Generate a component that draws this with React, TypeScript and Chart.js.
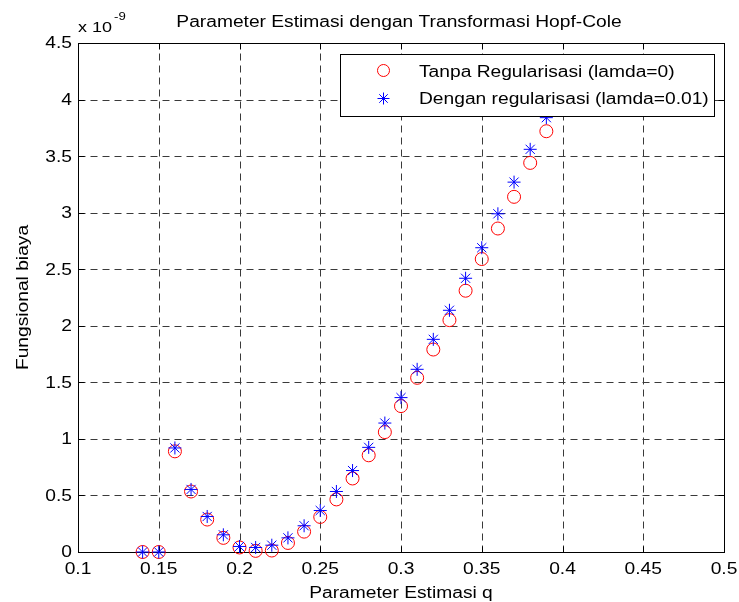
import React, { useEffect, useRef } from "react";
import { Chart, registerables } from "chart.js";

Chart.register(...registerables);

// Parameter estimasi q
const qValues = [
  0.14, 0.15, 0.16, 0.17, 0.18, 0.19, 0.2, 0.21, 0.22, 0.23, 0.24, 0.25, 0.26,
  0.27, 0.28, 0.29, 0.3, 0.31, 0.32, 0.33, 0.34, 0.35, 0.36, 0.37, 0.38, 0.39,
];
// Fungsional biaya (units of 1e-9)
const tanpaRegularisasi = [
  0, 0, 0.89, 0.535, 0.287, 0.125, 0.04, 0.01, 0.013, 0.08, 0.18, 0.31, 0.465,
  0.65, 0.855, 1.06, 1.29, 1.54, 1.79, 2.05, 2.31, 2.59, 2.86, 3.14, 3.44, 3.72,
];
const denganRegularisasi = [
  0, 0, 0.92, 0.553, 0.314, 0.152, 0.049, 0.04, 0.06, 0.125, 0.232, 0.367,
  0.535, 0.72, 0.925, 1.14, 1.365, 1.615, 1.88, 2.137, 2.42, 2.69, 2.99, 3.27,
  3.56, 3.84,
];

const xTickValues = [0.1, 0.15, 0.2, 0.25, 0.3, 0.35, 0.4, 0.45, 0.5];
const xTickLabels = ["0.1", "0.15", "0.2", "0.25", "0.3", "0.35", "0.4", "0.45", "0.5"];
const yTickValues = [0, 0.5, 1, 1.5, 2, 2.5, 3, 3.5, 4, 4.5];
const yTickLabels = ["0", "0.5", "1", "1.5", "2", "2.5", "3", "3.5", "4", "4.5"];

const titleText = "Parameter Estimasi dengan Transformasi Hopf-Cole";
const xAxisLabel = "Parameter Estimasi q";
const yAxisLabel = "Fungsional biaya";
const legendLabels = ["Tanpa Regularisasi (lamda=0)", "Dengan regularisasi (lamda=0.01)"];

const FONT = "'Liberation Sans', Arial, Helvetica, sans-serif";
const STRETCH = 1.2;

function drawText(
  ctx: CanvasRenderingContext2D,
  text: string,
  x: number,
  y: number,
  size: number,
  align: CanvasTextAlign,
  baseline: CanvasTextBaseline = "alphabetic",
  rotate = 0
) {
  ctx.save();
  ctx.translate(x, y);
  if (rotate) ctx.rotate(rotate);
  ctx.scale(STRETCH, 1);
  ctx.font = `${size}px ${FONT}`;
  ctx.textAlign = align;
  ctx.textBaseline = baseline;
  ctx.fillStyle = "#000";
  ctx.fillText(text, 0, 0);
  ctx.restore();
}

const framePlugin = {
  id: "matlabFrame",
  beforeDatasetsDraw(chart: any) {
    const { ctx, chartArea } = chart;
    const xs = chart.scales.x;
    const ys = chart.scales.y;
    const L = Math.round(chartArea.left) + 0.5;
    const R = Math.round(chartArea.right) + 0.5;
    const T = Math.round(chartArea.top) + 0.5;
    const B = Math.round(chartArea.bottom) + 0.5;
    ctx.save();
    // grid
    ctx.strokeStyle = "#3a3a3a";
    ctx.lineWidth = 1;
    ctx.setLineDash([7, 5]);
    xTickValues.forEach((v) => {
      const px = Math.round(xs.getPixelForValue(v)) + 0.5;
      ctx.beginPath();
      ctx.moveTo(px, B);
      ctx.lineTo(px, T);
      ctx.stroke();
    });
    yTickValues.forEach((v) => {
      const py = Math.round(ys.getPixelForValue(v)) + 0.5;
      ctx.beginPath();
      ctx.moveTo(L, py);
      ctx.lineTo(R, py);
      ctx.stroke();
    });
    ctx.setLineDash([]);
    // ticks inside
    ctx.strokeStyle = "#000";
    const tl = 6;
    xTickValues.forEach((v) => {
      const px = Math.round(xs.getPixelForValue(v)) + 0.5;
      ctx.beginPath();
      ctx.moveTo(px, B);
      ctx.lineTo(px, B - tl);
      ctx.moveTo(px, T);
      ctx.lineTo(px, T + tl);
      ctx.stroke();
    });
    yTickValues.forEach((v) => {
      const py = Math.round(ys.getPixelForValue(v)) + 0.5;
      ctx.beginPath();
      ctx.moveTo(L, py);
      ctx.lineTo(L + tl, py);
      ctx.moveTo(R, py);
      ctx.lineTo(R - tl, py);
      ctx.stroke();
    });
    // box
    ctx.strokeRect(L, T, R - L, B - T);
    ctx.restore();

    // tick labels, positioned by the chart's scales
    xTickValues.forEach((v, i) => {
      drawText(ctx, xTickLabels[i], xs.getPixelForValue(v), 574, 16, "center");
    });
    yTickValues.forEach((v, i) => {
      drawText(ctx, yTickLabels[i], chartArea.left - 6, ys.getPixelForValue(v) + 1, 16, "right", "middle");
    });
  },
  afterDraw(chart: any) {
    const { ctx, chartArea } = chart;
    const cx = (chartArea.left + chartArea.right) / 2;
    // title
    drawText(ctx, titleText, cx - 2, 27, 16, "center");
    // exponent
    drawText(ctx, "x 10", chartArea.left, 32, 15, "left");
    ctx.save();
    ctx.font = `15px ${FONT}`;
    const w = ctx.measureText("x 10").width * STRETCH;
    ctx.restore();
    drawText(ctx, "-9", chartArea.left + w + 2, 20, 11, "left");
    // x label
    drawText(ctx, xAxisLabel, cx, 598, 16, "center");
    // y label
    drawText(ctx, yAxisLabel, 28, (chartArea.top + chartArea.bottom) / 2, 16, "center", "alphabetic", -Math.PI / 2);
    // legend
    ctx.save();
    const lx = 340.5, ly = 54.5, lw = 374, lh = 62;
    ctx.fillStyle = "#fff";
    ctx.fillRect(lx, ly, lw, lh);
    ctx.strokeStyle = "#000";
    ctx.lineWidth = 1;
    ctx.strokeRect(lx, ly, lw, lh);
    // markers
    ctx.strokeStyle = "#ff0000";
    ctx.beginPath();
    ctx.arc(383.5, 70.5, 6, 0, Math.PI * 2);
    ctx.stroke();
    ctx.strokeStyle = "#0000ff";
    const sx = 383.5, sy = 98.5, r = 6, d = r * Math.SQRT1_2;
    ctx.beginPath();
    ctx.moveTo(sx - r, sy); ctx.lineTo(sx + r, sy);
    ctx.moveTo(sx, sy - r); ctx.lineTo(sx, sy + r);
    ctx.moveTo(sx - d, sy - d); ctx.lineTo(sx + d, sy + d);
    ctx.moveTo(sx - d, sy + d); ctx.lineTo(sx + d, sy - d);
    ctx.stroke();
    ctx.restore();
    drawText(ctx, legendLabels[0], 419, 77, 16, "left");
    drawText(ctx, legendLabels[1], 419, 104, 16, "left");
  },
};

export default function App() {
  const ref = useRef<HTMLCanvasElement | null>(null);
  useEffect(() => {
    if (!ref.current) return;
    const chart = new Chart(ref.current, {
      type: "scatter",
      data: {
        datasets: [
          {
            label: legendLabels[0],
            data: qValues.map((q, i) => ({ x: q, y: tanpaRegularisasi[i] })),
            pointStyle: "circle",
            pointRadius: 6.5,
            pointBackgroundColor: "rgba(0,0,0,0)",
            pointBorderColor: "#ff0000",
            pointBorderWidth: 1,
            clip: false as any,
            order: 1,
          },
          {
            label: legendLabels[1],
            data: qValues.map((q, i) => ({ x: q, y: denganRegularisasi[i] })),
            pointStyle: "star",
            pointRadius: 6.5,
            pointBackgroundColor: "#0000ff",
            pointBorderColor: "#0000ff",
            pointBorderWidth: 1,
            clip: false as any,
            order: 0,
          },
        ],
      },
      options: {
        animation: false,
        responsive: false,
        devicePixelRatio: 1,
        events: [],
        layout: { padding: { top: 43, right: 15, left: 0, bottom: 0 } },
        plugins: {
          legend: { display: false },
          title: { display: false },
          tooltip: { enabled: false },
        },
        scales: {
          x: {
            type: "linear",
            min: 0.1,
            max: 0.5,
            afterBuildTicks: (s: any) => {
              s.ticks = xTickValues.map((v) => ({ value: v }));
            },
            afterFit: (s: any) => {
              s.height = 50;
              s.paddingLeft = 0;
              s.paddingRight = 0;
            },
            grid: { display: false, drawTicks: false },
            border: { display: false },
            ticks: { display: false },
          },
          y: {
            type: "linear",
            min: 0,
            max: 4.5,
            afterBuildTicks: (s: any) => {
              s.ticks = yTickValues.map((v) => ({ value: v }));
            },
            afterFit: (s: any) => {
              s.width = 78;
              s.paddingTop = 0;
              s.paddingBottom = 0;
            },
            grid: { display: false, drawTicks: false },
            border: { display: false },
            ticks: { display: false },
          },
        },
      },
      plugins: [framePlugin],
    });
    return () => chart.destroy();
  }, []);
  return (
    <div style={{ position: "absolute", left: 0, top: 0, width: 739, height: 602, background: "#fff" }}>
      <canvas ref={ref} width={739} height={602} style={{ width: 739, height: 602, display: "block" }} />
    </div>
  );
}
